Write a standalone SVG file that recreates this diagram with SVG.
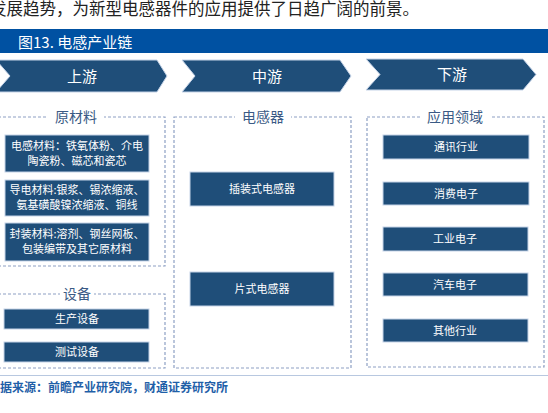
<svg xmlns="http://www.w3.org/2000/svg" width="548" height="413" viewBox="0 0 548 413">
<style>
text{font-family:"Noto Sans CJK SC","Liberation Sans",sans-serif}
.chev{fill:#1f4e79;stroke:#c5d3e8;stroke-width:1}
.chevt{fill:#fff;font-size:15px;text-anchor:middle}
.dash{fill:none;stroke:#8da0c4;stroke-width:1.2;stroke-dasharray:3,2}
.lbl{fill:#3a5a85;font-size:14px;text-anchor:middle}
.box{fill:#1f4e79;stroke:#c5d3e8;stroke-width:1}
.bt{fill:#fff;font-size:11px;text-anchor:middle}
.lblbg{fill:#fff}
</style>
<rect width="548" height="413" fill="#fff"/>
<text x="-10" y="15" font-size="16.5" fill="#222">发展趋势，为新型电感器件的应用提供了日趋广阔的前景。</text>
<rect x="0" y="29" width="548" height="24" fill="#0051a2"/>
<text x="18" y="47.5" font-size="15" fill="#fff">图13. 电感产业链</text>

<g id="stage-upstream">
<polygon class="chev" points="-4,60 157,60 167,76 157,92 -4,92 10,76"/>
<text class="chevt" x="82" y="81.5">上游</text>
</g>
<g id="stage-midstream">
<polygon class="chev" points="182,60 340,60 351,76 340,92 182,92 195,76"/>
<text class="chevt" x="267" y="81.5">中游</text>
</g>
<g id="stage-downstream">
<polygon class="chev" points="366,59 523,59 536,74.5 523,90 366,90 380,74.5"/>
<text class="chevt" x="452" y="80">下游</text>
</g>

<g id="group-raw">
<rect class="dash" x="-2" y="117" width="167" height="149"/>
<rect class="lblbg" x="48" y="108" width="56" height="18"/>
<text class="lbl" x="76" y="122">原材料</text>
</g>
<g id="group-equipment">
<rect class="dash" x="-2" y="294" width="167" height="74"/>
<rect class="lblbg" x="60" y="285" width="34" height="18"/>
<text class="lbl" x="77" y="299">设备</text>
</g>
<g id="group-inductor">
<rect class="dash" x="174" y="117" width="177" height="251"/>
<rect class="lblbg" x="235" y="108" width="56" height="18"/>
<text class="lbl" x="263" y="122">电感器</text>
</g>
<g id="group-apps">
<rect class="dash" x="367" y="117" width="177" height="250"/>
<rect class="lblbg" x="420" y="108" width="70" height="18"/>
<text class="lbl" x="455" y="122">应用领域</text>
</g>

<g id="node-inductor-material">
<rect class="box" x="5" y="135" width="144" height="37"/>
<text class="bt" x="77" y="150">电感材料：铁氧体粉、介电</text>
<text class="bt" x="77" y="165">陶瓷粉、磁芯和瓷芯</text>
</g>
<g id="node-conductive-material">
<rect class="box" x="5" y="180" width="144" height="36"/>
<text class="bt" x="77" y="194">导电材料:银浆、锡浓缩液、</text>
<text class="bt" x="77" y="209">氨基磺酸镍浓缩液、铜线</text>
</g>
<g id="node-packaging-material">
<rect class="box" x="5" y="223" width="144" height="38"/>
<text class="bt" x="77" y="238">封装材料:溶剂、钢丝网板、</text>
<text class="bt" x="77" y="253">包装编带及其它原材料</text>
</g>
<g id="node-production-equipment">
<rect class="box" x="4" y="309" width="145" height="20"/>
<text class="bt" x="77" y="323">生产设备</text>
</g>
<g id="node-test-equipment">
<rect class="box" x="4" y="342" width="145" height="20"/>
<text class="bt" x="77" y="356">测试设备</text>
</g>

<g id="node-plug-in-inductor">
<rect class="box" x="190" y="172" width="144" height="34"/>
<text class="bt" x="262" y="193">插装式电感器</text>
</g>
<g id="node-chip-inductor">
<rect class="box" x="190" y="272" width="144" height="34"/>
<text class="bt" x="262" y="293">片式电感器</text>
</g>

<g id="node-telecom">
<rect class="box" x="383" y="135" width="146" height="24"/>
<text class="bt" x="456" y="151">通讯行业</text>
</g>
<g id="node-consumer">
<rect class="box" x="383" y="182" width="146" height="23"/>
<text class="bt" x="456" y="197.5">消费电子</text>
</g>
<g id="node-industrial">
<rect class="box" x="383" y="227" width="145" height="24"/>
<text class="bt" x="455" y="243">工业电子</text>
</g>
<g id="node-automotive">
<rect class="box" x="383" y="273" width="145" height="23"/>
<text class="bt" x="455" y="288.5">汽车电子</text>
</g>
<g id="node-other">
<rect class="box" x="383" y="319" width="145" height="23"/>
<text class="bt" x="455" y="334.5">其他行业</text>
</g>

<g id="connectors"></g>

<line x1="0" y1="375.5" x2="548" y2="375.5" stroke="#b8c8e0" stroke-width="1.2"/>
<text x="-12" y="392" font-size="12" font-weight="bold" fill="#1f5fa8">数据来源：前瞻产业研究院，财通证券研究所</text>
</svg>
